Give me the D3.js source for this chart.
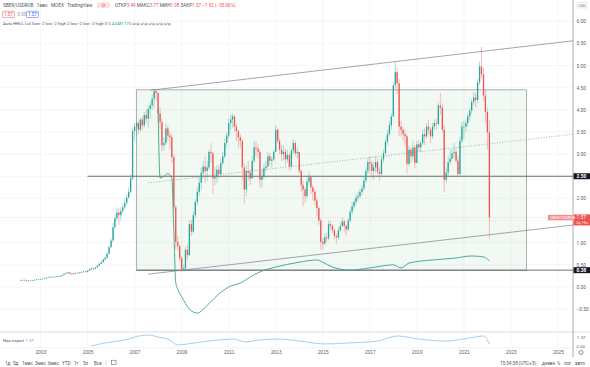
<!DOCTYPE html>
<html><head><meta charset="utf-8">
<script src="https://cdn.jsdelivr.net/npm/d3@7"></script>
<style>body{margin:0;background:#fff;} svg{display:block;font-family:Roboto,"Noto Sans",sans-serif;}</style>
</head><body>
<svg id="c" width="590" height="367"></svg>
<script>
// ---------- DATA ----------
const startMonth = "2002-03";
const firstOpen = 0.14;
const closes = [
0.15,0.16,0.15,0.14,0.14,0.15,0.15,0.16,0.17,0.17,
0.18,0.19,0.19,0.21,0.22,0.23,0.22,0.23,0.24,0.23,0.25,0.27,
0.30,0.31,0.33,0.30,0.29,0.31,0.32,0.31,0.33,0.34,0.35,0.34,
0.37,0.40,0.42,0.41,0.44,0.48,0.52,0.56,0.62,0.66,0.75,0.90,
1.05,1.35,1.55,1.68,1.62,1.72,1.80,1.90,2.02,2.15,2.45,3.52,
3.62,3.70,3.55,3.78,3.65,3.88,3.80,4.02,4.10,4.25,4.42,4.38,
3.92,3.72,3.20,3.25,3.58,3.42,3.38,2.93,1.80,1.02,0.92,0.65,
0.40,0.42,0.84,0.72,1.42,1.25,1.62,1.92,2.15,2.35,2.58,2.72,
2.62,2.70,3.05,3.02,2.45,2.48,2.65,2.55,2.80,2.95,3.25,3.42,
3.70,3.78,3.85,3.62,3.52,3.38,3.30,2.70,2.20,2.62,2.58,2.45,
2.85,3.15,3.12,3.05,2.42,2.50,2.68,2.72,2.95,2.85,2.88,3.05,
3.55,3.30,3.10,3.00,3.05,2.88,2.98,2.72,3.08,3.25,3.02,3.05,
2.62,2.30,2.20,2.05,2.38,2.48,2.25,2.15,1.95,1.78,1.50,1.02,
0.98,1.12,1.10,1.42,1.38,1.28,1.15,1.12,1.28,1.38,1.48,1.38,
1.30,1.50,1.70,1.82,1.92,2.02,2.05,2.15,2.22,2.40,2.62,2.82,
2.78,2.62,2.70,2.82,2.60,2.55,2.88,3.02,3.28,3.45,3.65,3.85,
4.55,4.85,4.60,3.62,3.55,3.45,3.40,2.78,3.10,2.95,3.15,2.80,
3.22,3.15,3.25,3.45,3.40,3.62,3.55,3.40,3.62,3.70,3.68,4.10,
4.05,3.55,2.42,2.58,2.82,2.90,3.02,3.05,2.85,2.55,3.30,3.62,
3.62,3.70,3.85,3.98,4.18,4.28,4.22,4.62,4.98,4.80,4.32,3.95,
3.49,1.57];
const highs = [
0.16,0.17,0.17,0.16,0.15,0.16,0.16,0.17,0.18,0.18,
0.19,0.20,0.20,0.22,0.23,0.24,0.24,0.24,0.25,0.25,0.26,0.28,
0.31,0.33,0.34,0.34,0.31,0.32,0.33,0.33,0.34,0.35,0.36,0.36,
0.38,0.41,0.44,0.43,0.45,0.49,0.54,0.58,0.64,0.68,0.78,0.93,
1.10,1.45,1.65,1.80,1.78,1.80,1.88,1.98,2.10,2.25,2.55,3.60,
3.70,3.75,3.75,3.82,3.85,3.95,4.00,4.08,4.18,4.35,4.47,4.45,
4.40,4.05,3.80,3.38,3.70,3.65,3.50,3.45,3.00,1.85,1.15,0.95,
0.70,0.50,0.90,0.95,1.50,1.52,1.70,1.98,2.25,2.50,2.70,2.85,
2.95,2.85,3.10,3.25,3.05,2.70,2.75,2.75,2.90,3.05,3.35,3.50,
3.80,3.88,3.92,3.88,3.68,3.55,3.45,3.35,2.80,2.75,2.85,2.65,
2.95,3.30,3.28,3.22,3.10,2.65,2.78,2.85,3.05,3.02,2.95,3.10,
3.65,3.58,3.35,3.20,3.20,3.12,3.10,3.02,3.12,3.35,3.30,3.15,
3.05,2.65,2.40,2.25,2.45,2.60,2.50,2.30,2.20,2.00,1.82,1.55,
1.10,1.20,1.22,1.50,1.48,1.42,1.32,1.20,1.35,1.45,1.56,1.52,
1.42,1.55,1.75,1.92,1.98,2.10,2.15,2.22,2.30,2.48,2.70,2.90,
2.95,2.85,2.82,2.95,2.90,2.70,2.95,3.10,3.35,3.55,3.75,3.92,
4.62,5.08,4.95,4.70,3.75,3.62,3.55,3.45,3.20,3.15,3.30,3.20,
3.30,3.32,3.30,3.55,3.58,3.70,3.78,3.60,3.70,3.78,3.80,4.15,
4.38,4.15,3.65,2.70,2.95,3.10,3.12,3.25,3.15,2.95,3.40,3.72,
3.75,3.78,3.92,4.05,4.25,4.40,4.38,4.70,5.10,5.42,4.95,4.45,
4.05,3.77];
const lows = [
0.14,0.15,0.14,0.13,0.13,0.14,0.14,0.15,0.16,0.16,
0.16,0.17,0.18,0.19,0.21,0.22,0.21,0.22,0.23,0.22,0.23,0.25,
0.27,0.29,0.30,0.28,0.27,0.28,0.30,0.30,0.31,0.32,0.33,0.33,
0.33,0.36,0.39,0.38,0.40,0.44,0.47,0.52,0.55,0.60,0.65,0.74,
0.88,1.00,1.30,1.50,1.40,1.50,1.65,1.75,1.85,2.00,2.10,2.40,
3.30,3.40,3.45,3.50,3.55,3.60,3.70,3.60,3.80,4.00,4.05,4.20,
3.70,3.55,3.05,3.08,3.20,3.30,3.10,2.80,1.70,0.85,0.82,0.58,
0.34,0.35,0.40,0.62,0.70,1.15,1.20,1.55,1.85,2.05,2.20,2.45,
2.35,2.40,2.65,2.80,2.10,2.30,2.35,2.45,2.50,2.75,2.90,3.15,
3.35,3.55,3.60,3.50,3.30,3.15,3.15,2.40,1.88,2.05,2.40,2.30,
2.45,2.80,2.95,2.90,2.25,2.25,2.45,2.60,2.70,2.75,2.70,2.85,
3.05,3.25,3.00,2.85,2.85,2.75,2.80,2.62,2.65,3.00,2.95,2.90,
2.55,2.15,1.82,1.90,2.00,2.30,2.10,1.95,1.85,1.60,1.40,0.84,
0.84,0.95,1.02,1.05,1.30,1.22,1.08,0.98,1.08,1.25,1.35,1.22,
1.15,1.25,1.45,1.65,1.75,1.85,1.95,2.00,2.08,2.18,2.35,2.55,
2.55,2.45,2.42,2.58,2.52,2.40,2.50,2.80,2.98,3.20,3.40,3.55,
3.85,4.45,4.35,3.40,3.40,3.30,3.20,2.57,2.72,2.80,2.85,2.68,
2.80,3.05,3.05,3.20,3.20,3.35,3.45,3.25,3.35,3.55,3.55,3.65,
3.90,3.48,2.14,2.35,2.50,2.75,2.85,2.90,2.80,2.48,2.52,3.25,
3.35,3.50,3.62,3.75,3.90,4.10,4.05,4.15,4.55,4.70,4.20,3.70,
3.10,1.08];

// oscillator line plotted on price scale
const indicator = [
["2008-01",4.00],["2008-02",2.46],["2008-04",2.50],["2008-06",2.56],["2008-08",2.45],
["2008-09",1.30],["2008-10",0.10],["2008-11",-0.05],["2009-01",-0.22],["2009-05",-0.50],
["2009-09",-0.59],["2010-01",-0.46],["2010-06",-0.24],["2011-01",0.00],["2011-07",0.09],
["2012-01",0.25],["2012-06",0.36],["2013-01",0.45],["2014-01",0.56],["2014-10",0.61],
["2015-01",0.56],["2015-06",0.45],["2016-03",0.38],["2017-01",0.43],["2018-01",0.50],
["2018-05",0.43],["2018-09",0.54],["2019-09",0.61],["2020-08",0.65],["2021-05",0.70],
["2021-11",0.68],["2022-01",0.63],["2022-02",0.59]];

// lower pane indicator
const subSeries = [
["2005-03",0.12],["2005-10",0.46],["2006-05",0.69],["2006-10",0.92],["2007-01",1.15],
["2007-08",1.38],["2008-01",1.15],["2008-07",0.81],["2008-11",0.23],["2009-04",0.35],
["2010-03",0.69],["2011-04",0.92],["2011-09",0.58],["2012-05",0.81],["2013-02",0.92],
["2014-01",0.69],["2015-02",0.35],["2016-02",0.46],["2017-05",0.69],["2018-03",1.27],
["2019-02",0.92],["2020-04",0.69],["2021-04",1.04],["2021-11",1.27],["2022-02",0.35]];

// drawings
const upperChannel = [["2007-09",4.44],["2025-09",5.56]];
const lowerChannel = [["2007-08",0.29],["2025-09",1.40]];
const midChannel   = [["2007-08",2.35],["2025-09",3.45]];
const hLevel1 = {from:"2005-01", to:"2025-09", value:2.50};
const hLevel2 = {from:"2007-02", to:"2025-09", value:0.38};
const zoneBox = {from:"2007-02", to:"2023-09", low:0.38, high:4.45};

const yearTicks = [2003,2005,2007,2009,2011,2013,2015,2017,2019,2021,2023,2025];
const priceTicks = [6,5.5,5,4.5,4,3.5,3,2,1,0.5,0,-0.5];
const lastPrice = 1.57;

// ---------- CHART ----------
const svg = d3.select("#c");
const axisX = 573, paneBottom = 332;
const pm = d3.timeParse("%Y-%m");
const x = d3.scaleTime().domain([new Date(2003,0,1), new Date(2025,0,1)]).range([40.5, 558]);
const y = d3.scaleLinear().domain([0,6]).range([287,21.2]);
const ySub = d3.scaleLinear().domain([0,1.5]).range([347,334]);
const GREEN="#26a69a", RED="#ef5350";

svg.append("defs").append("clipPath").attr("id","main")
  .append("rect").attr("x",0).attr("y",0).attr("width",axisX).attr("height",paneBottom);

// grid
const grid = svg.append("g");
d3.range(-1, 6.01, 0.5).forEach(v=>{
  grid.append("line").attr("x1",0).attr("x2",axisX).attr("y1",y(v)).attr("y2",y(v))
    .attr("stroke","#f0f2f6").attr("stroke-width",0.7);
});
yearTicks.forEach(yr=>{
  const xx = x(new Date(yr,0,1));
  grid.append("line").attr("x1",xx).attr("x2",xx).attr("y1",0).attr("y2",348)
    .attr("stroke","#f0f2f6").attr("stroke-width",0.7);
});

const g = svg.append("g").attr("clip-path","url(#main)");

// zone box
g.append("rect")
  .attr("x",x(pm(zoneBox.from))).attr("y",y(zoneBox.high))
  .attr("width",x(pm(zoneBox.to))-x(pm(zoneBox.from)))
  .attr("height",y(zoneBox.low)-y(zoneBox.high))
  .attr("fill","rgba(76,175,80,0.07)").attr("stroke","#8d9096").attr("stroke-width",0.7);

// horizontal levels
[hLevel1,hLevel2].forEach(h=>{
  g.append("line").attr("x1",x(pm(h.from))).attr("x2",x(pm(h.to)))
    .attr("y1",y(h.value)).attr("y2",y(h.value))
    .attr("stroke","#4a4d55").attr("stroke-width",0.8);
});

// last price line
g.append("line").attr("x1",0).attr("x2",axisX).attr("y1",y(lastPrice)).attr("y2",y(lastPrice))
  .attr("stroke",RED).attr("stroke-opacity",0.35).attr("stroke-width",0.6).attr("stroke-dasharray","1,1.5");

const lineGen = d3.line().x(d=>x(pm(d[0]))).y(d=>y(d[1]));
g.append("path").attr("d",lineGen(upperChannel)).attr("fill","none").attr("stroke","#7d8089").attr("stroke-width",0.7);
g.append("path").attr("d",lineGen(lowerChannel)).attr("fill","none").attr("stroke","#7d8089").attr("stroke-width",0.7);
g.append("path").attr("d",lineGen(midChannel)).attr("fill","none").attr("stroke","#8d9096").attr("stroke-width",0.7).attr("stroke-dasharray","1,1.6");

// candles
const start = pm(startMonth);
const bars = closes.map((c,i)=>({
  d: d3.timeMonth.offset(start,i),
  o: i===0?firstOpen:closes[i-1], c, h:highs[i], l:lows[i]
}));
const cg = g.append("g");
bars.forEach(b=>{
  const xx = x(b.d);
  const col = b.c>=b.o?GREEN:RED;
  cg.append("line").attr("x1",xx).attr("x2",xx).attr("y1",y(b.h)).attr("y2",y(b.l))
    .attr("stroke",col).attr("stroke-width",0.5).attr("stroke-opacity",0.75);
  const top=y(Math.max(b.o,b.c)), bot=y(Math.min(b.o,b.c));
  cg.append("rect").attr("x",xx-0.65).attr("width",1.3).attr("y",top).attr("height",Math.max(0.6,bot-top)).attr("fill",col);
});

// oscillator line
g.append("path").attr("d",d3.line().x(d=>x(pm(d[0]))).y(d=>y(d[1])).curve(d3.curveMonotoneX)(indicator))
  .attr("fill","none").attr("stroke","#3aa08f").attr("stroke-width",0.9);

// pane separators
svg.append("line").attr("x1",0).attr("x2",590).attr("y1",paneBottom).attr("y2",paneBottom).attr("stroke","#d6d8de").attr("stroke-width",0.8);
svg.append("line").attr("x1",0).attr("x2",axisX).attr("y1",348).attr("y2",348).attr("stroke","#e6e8ec").attr("stroke-width",0.6);

// sub pane line
svg.append("path").attr("d",d3.line().x(d=>x(pm(d[0]))).y(d=>ySub(d[1])).curve(d3.curveMonotoneX)(subSeries))
  .attr("fill","none").attr("stroke","#8fc0e8").attr("stroke-width",0.8);

// price axis
svg.append("line").attr("x1",axisX).attr("x2",axisX).attr("y1",0).attr("y2",357).attr("stroke","#9598a1").attr("stroke-width",0.8);
const ya = svg.append("g").attr("transform",`translate(${axisX},0)`)
  .call(d3.axisRight(y).tickValues(priceTicks).tickFormat(d3.format(".2f")).tickSize(0).tickPadding(3.5));
ya.select(".domain").remove();
ya.selectAll("text").attr("font-size",4.8).attr("fill","#5d606b").attr("font-family","Roboto,sans-serif");

const sa = svg.append("g").attr("transform",`translate(${axisX},0)`)
  .call(d3.axisRight(ySub).tickValues([0]).tickFormat(d3.format(".2f")).tickSize(0).tickPadding(3.5));
sa.select(".domain").remove();
sa.selectAll("text").attr("font-size",4.4).attr("fill","#5d606b").attr("dy","0.2em");
svg.append("text").attr("x",577).attr("y",338.5).attr("font-size",4.4).attr("fill","#5d606b").text("1.37");

// time axis
const xa = svg.append("g").attr("transform","translate(0,349.5)")
  .call(d3.axisBottom(x).tickValues(yearTicks.map(v=>new Date(v,0,1))).tickFormat(d3.timeFormat("%Y")).tickSize(0).tickPadding(1.5));
xa.select(".domain").remove();
xa.selectAll("text").attr("font-size",4.8).attr("fill","#5d606b");

// axis badges
function badge(yc, txt, fill){
  svg.append("rect").attr("x",axisX+0.5).attr("y",yc-3).attr("width",16.5).attr("height",6).attr("fill",fill);
  svg.append("text").attr("x",axisX+3.5).attr("y",yc+1.7).attr("font-size",4.8).attr("fill","#fff").attr("font-weight","bold").text(txt);
}
badge(y(hLevel1.value), d3.format(".2f")(hLevel1.value), "#131722");
badge(y(hLevel2.value), d3.format(".2f")(hLevel2.value), "#131722");
// last price badge
svg.append("rect").attr("x",axisX+0.5).attr("y",y(lastPrice)-3).attr("width",16.5).attr("height",11).attr("fill",RED);
svg.append("text").attr("x",axisX+3.5).attr("y",y(lastPrice)+1.7).attr("font-size",4.8).attr("fill","#fff").text(d3.format(".2f")(lastPrice));
svg.append("text").attr("x",axisX+3).attr("y",y(lastPrice)+6.8).attr("font-size",3.8).attr("fill","#fff").text("2д 19ч");
svg.append("rect").attr("x",548).attr("y",y(lastPrice)-2.6).attr("width",24.5).attr("height",5.4).attr("fill","#f28b89");
svg.append("text").attr("x",550).attr("y",y(lastPrice)+1.3).attr("font-size",3.8).attr("fill","#fff").text("SBER/USDRUB");
// currency box
svg.append("rect").attr("x",577).attr("y",2.5).attr("width",10).attr("height",5.5).attr("fill","#fff").attr("stroke","#c9cbd1").attr("stroke-width",0.5).attr("rx",0.8);
svg.append("text").attr("x",582).attr("y",6.6).attr("text-anchor","middle").attr("font-size",3.6).attr("fill","#5d606b").text("USD");

// legend
const L = svg.append("g").attr("font-size",4.6);
L.append("text").attr("x",3).attr("y",7).attr("fill","#50535e").text("SBER/USDRUB · 1мес · MOEX · TradingView");
L.append("rect").attr("x",97).attr("y",2.3).attr("width",13).attr("height",6).attr("fill","#fbe3e4").attr("rx",1);
L.append("circle").attr("cx",103.5).attr("cy",5.3).attr("r",1.3).attr("fill","none").attr("stroke",RED).attr("stroke-width",0.6);
const ohlc = L.append("text").attr("x",115).attr("y",7);
[["ОТКР","#50535e"],["3.49",RED],[" МАКС","#50535e"],["3.77",RED],[" МИН","#50535e"],["1.08",RED],[" ЗАКР","#50535e"],["1.57",RED],[" −1.92 (−55.06%)",RED]]
  .forEach(([t,c])=>ohlc.append("tspan").attr("fill",c).text(t));
L.append("rect").attr("x",2.5).attr("y",11.3).attr("width",12).attr("height",6.2).attr("fill","#fff").attr("stroke",RED).attr("stroke-width",0.5).attr("rx",0.8);
L.append("text").attr("x",8.5).attr("y",16).attr("text-anchor","middle").attr("fill",RED).text("1.57");
L.append("text").attr("x",17.5).attr("y",16).attr("fill","#9598a1").text("0.00");
L.append("rect").attr("x",26.5).attr("y",11.3).attr("width",12).attr("height",6.2).attr("fill","#fff").attr("stroke","#2962ff").attr("stroke-width",0.5).attr("rx",0.8);
L.append("text").attr("x",32.5).attr("y",16).attr("text-anchor","middle").attr("fill","#2962ff").text("1.57");
const r3 = L.append("text").attr("x",3).attr("y",24.5).attr("font-size",4.3);
r3.append("tspan").attr("fill","#50535e").text("Auto HHLL Lol Size -2 low -2 high 2 low -2 low -2 high 0 ");
r3.append("tspan").attr("fill",GREEN).text(" 0.43481175 ");
r3.append("tspan").attr("fill","#50535e").text(" н/д н/д н/д н/д н/д");

// sub pane legend
const sl = svg.append("text").attr("x",3).attr("y",342).attr("font-size",4.3);
sl.append("tspan").attr("fill","#50535e").text("Ндс export ");
sl.append("tspan").attr("fill","#5b9cf6").text(" 1.37");

// bottom toolbar
const tb = svg.append("g").attr("font-size",4.6).attr("fill","#50535e");
[["1д",5],["5д",13],["1мес",22],["3мес",35],["6мес",48],["YTD",62],["1г",74],["5л",83],["Все",94]]
  .forEach(([t,xx])=>tb.append("text").attr("x",xx).attr("y",364.5).text(t));
svg.append("line").attr("x1",106).attr("x2",106).attr("y1",360).attr("y2",366).attr("stroke","#d1d4dc").attr("stroke-width",0.6);
svg.append("rect").attr("x",111.5).attr("y",360.2).attr("width",4.5).attr("height",4.5).attr("fill","none").attr("stroke","#50535e").attr("stroke-width",0.5);
tb.append("text").attr("x",500).attr("y",364.5).text("15:54:38 (UTC+3)");
svg.append("line").attr("x1",537).attr("x2",537).attr("y1",360).attr("y2",366).attr("stroke","#d1d4dc").attr("stroke-width",0.6);
tb.append("text").attr("x",542).attr("y",364.5).text("дневн");
tb.append("text").attr("x",557).attr("y",364.5).text("%");
tb.append("text").attr("x",564).attr("y",364.5).text("лог");
tb.append("text").attr("x",575).attr("y",364.5).text("авто");
svg.append("circle").attr("cx",581).attr("cy",352.5).attr("r",2).attr("fill","none").attr("stroke","#50535e").attr("stroke-width",0.6);
</script>
</body></html>
